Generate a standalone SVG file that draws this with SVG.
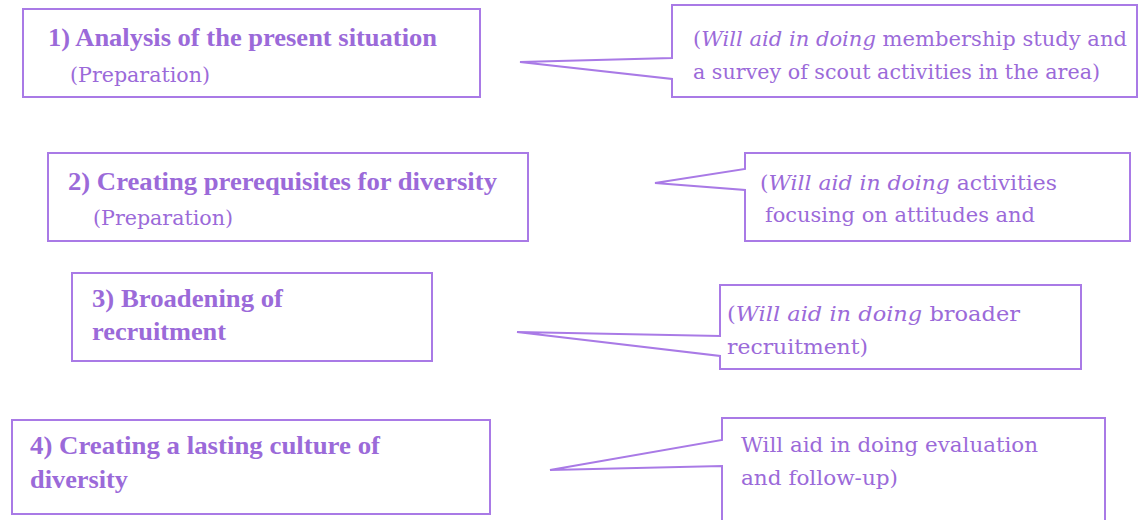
<svg xmlns="http://www.w3.org/2000/svg" width="1145" height="520" viewBox="0 0 1145 520">
<style>
.box{fill:#fff;stroke:#a97ae6;stroke-width:2}
.t{font-family:"Liberation Serif",serif;font-weight:bold;font-size:26px;fill:#9b6ad9}
.s{font-family:"DejaVu Serif","Liberation Serif",serif;font-size:21px;fill:#9b6ad9}
.i{font-style:italic}
</style>
<rect width="1145" height="520" fill="#fff"/>
<g id="step1">
<rect class="box" x="23" y="9" width="457" height="88"/>
<text class="t" x="48" y="46" textLength="389" lengthAdjust="spacingAndGlyphs">1) Analysis of the present situation</text>
<text class="s" x="70" y="82" textLength="140" lengthAdjust="spacingAndGlyphs">(Preparation)</text>
</g>
<g id="note1">
<path class="box" d="M672,5 H1137 V97 H672 V79 L520,62 L672,58 Z"/>
<text class="s" x="693" y="46" textLength="434" lengthAdjust="spacingAndGlyphs">(<tspan class="i">Will aid in doing</tspan> membership study and</text>
<text class="s" x="693" y="79" textLength="407" lengthAdjust="spacingAndGlyphs">a survey of scout activities in the area)</text>
</g>
<g id="step2">
<rect class="box" x="48" y="153" width="480" height="88"/>
<text class="t" x="68" y="190" textLength="429" lengthAdjust="spacingAndGlyphs">2) Creating prerequisites for diversity</text>
<text class="s" x="93" y="225" textLength="140" lengthAdjust="spacingAndGlyphs">(Preparation)</text>
</g>
<g id="note2">
<path class="box" d="M745,153 H1130 V241 H745 V190 L655,183 L745,169 Z"/>
<text class="s" x="760" y="190" textLength="297" lengthAdjust="spacingAndGlyphs">(<tspan class="i">Will aid in doing</tspan> activities</text>
<text class="s" x="765" y="222" textLength="270" lengthAdjust="spacingAndGlyphs">focusing on attitudes and</text>
</g>
<g id="step3">
<rect class="box" x="72" y="273" width="360" height="88"/>
<text class="t" x="92" y="307" textLength="191" lengthAdjust="spacingAndGlyphs">3) Broadening of</text>
<text class="t" x="92" y="340" textLength="134" lengthAdjust="spacingAndGlyphs">recruitment</text>
</g>
<g id="note3">
<path class="box" d="M720,285 H1081 V369 H720 V356 L517,332 L720,336 Z"/>
<text class="s" x="727" y="321" textLength="293" lengthAdjust="spacingAndGlyphs">(<tspan class="i">Will aid in doing</tspan> broader</text>
<text class="s" x="727" y="354" textLength="141" lengthAdjust="spacingAndGlyphs">recruitment)</text>
</g>
<g id="step4">
<rect class="box" x="12" y="420" width="478" height="94"/>
<text class="t" x="30" y="454" textLength="350" lengthAdjust="spacingAndGlyphs">4) Creating a lasting culture of</text>
<text class="t" x="30" y="488" textLength="98" lengthAdjust="spacingAndGlyphs">diversity</text>
</g>
<g id="note4">
<path class="box" d="M722,530 V466 L550,470 L722,440 V418 H1105 V530"/>
<text class="s" x="741" y="452" textLength="297" lengthAdjust="spacingAndGlyphs">Will aid in doing evaluation</text>
<text class="s" x="741" y="485" textLength="157" lengthAdjust="spacingAndGlyphs">and follow-up)</text>
</g>
<g id="connectors"></g>
</svg>
